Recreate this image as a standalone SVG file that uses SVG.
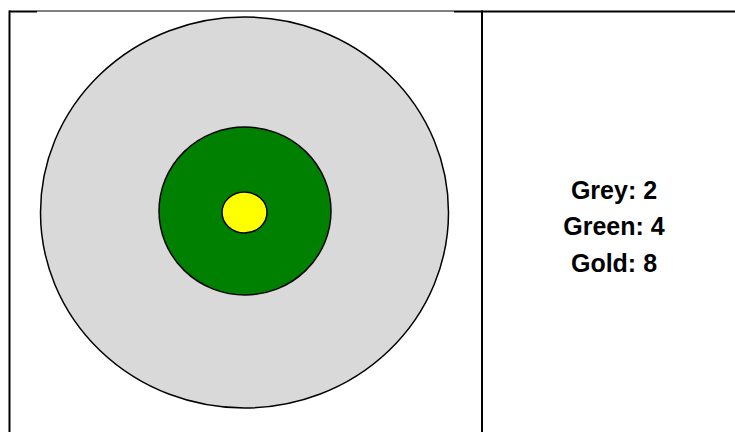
<svg xmlns="http://www.w3.org/2000/svg" width="735" height="432" viewBox="0 0 735 432">
<style>
.ring{stroke:#000;stroke-width:1.5}
.border{stroke:#000;fill:none}
.lbl{font-family:"Liberation Sans",Arial,sans-serif;font-weight:bold;font-size:25px;fill:#000;text-anchor:middle}
</style>
<rect width="735" height="432" fill="#fff"/>
<g id="table">
<line class="border" x1="9" y1="11.5" x2="37" y2="11.5" stroke-width="2"/>
<line class="border" x1="37" y1="11" x2="454" y2="11" stroke-width="1"/>
<line class="border" x1="454" y1="11.5" x2="735" y2="11.5" stroke-width="2"/>
<line class="border" x1="9.5" y1="10.5" x2="9.5" y2="432" stroke-width="2"/>
<line class="border" x1="482" y1="10.5" x2="482" y2="432" stroke-width="2"/>
</g>
<g id="grey">
<ellipse class="ring" cx="244.5" cy="212.5" rx="204" ry="195.5" fill="#d9d9d9"/>
</g>
<g id="green">
<ellipse class="ring" cx="245" cy="211" rx="86" ry="84" fill="#008000"/>
</g>
<g id="gold">
<ellipse class="ring" cx="244.5" cy="212.5" rx="22.5" ry="20.5" fill="#ffff00"/>
</g>
<g id="legend">
<text class="lbl" x="614" y="199">Grey: 2</text>
<text class="lbl" x="614" y="235">Green: 4</text>
<text class="lbl" x="614" y="272">Gold: 8</text>
</g>
</svg>
